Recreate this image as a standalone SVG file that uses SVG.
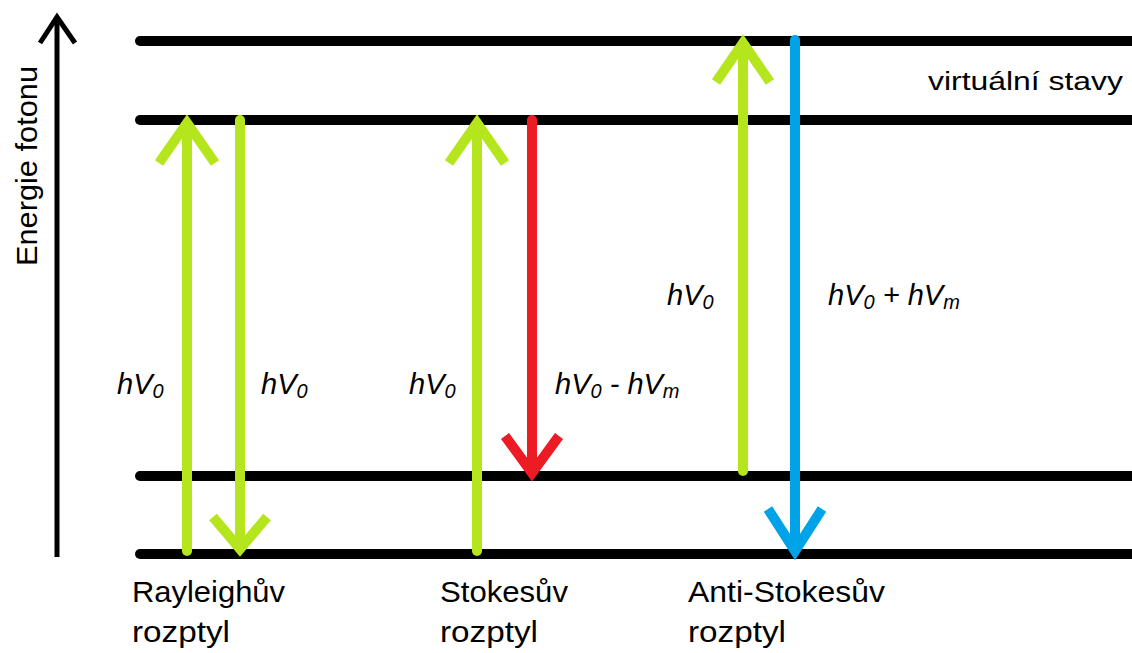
<svg xmlns="http://www.w3.org/2000/svg" width="1132" height="653" viewBox="0 0 1132 653">
<style>
.lvl{stroke:#000;stroke-width:10;stroke-linecap:round;fill:none}
.ar{stroke-width:10;fill:none;stroke-linecap:round}
.hd{stroke-width:10;fill:none;stroke-linecap:butt;stroke-linejoin:miter;stroke-miterlimit:10}
.g{stroke:#b5e61d}.r{stroke:#ed1c24}.b{stroke:#00a2e8}
.t{font-family:"Liberation Sans",Arial,sans-serif;fill:#000}
.lbl{font-family:"Liberation Sans",Arial,sans-serif;font-style:italic;font-size:29px;fill:#000}
.sub{font-size:20px}
</style>
<rect width="1132" height="653" fill="#fff"/>
<g id="axis">
<line x1="57" y1="557" x2="57" y2="18" stroke="#000" stroke-width="5"/>
<polyline points="40,43 57,17 75,43" fill="none" stroke="#000" stroke-width="5" stroke-linejoin="miter"/>
<text class="t" font-size="30" transform="translate(37,166) rotate(-90)" text-anchor="middle" textLength="200" lengthAdjust="spacingAndGlyphs">Energie fotonu</text>
</g>
<g id="levels">
<line class="lvl" x1="140" y1="41" x2="1140" y2="41"/>
<line class="lvl" x1="140" y1="120" x2="1140" y2="120"/>
<line class="lvl" x1="140" y1="476" x2="1140" y2="476"/>
<line class="lvl" x1="140" y1="554" x2="1140" y2="554"/>
<text class="t" x="928" y="90" font-size="26" textLength="195" lengthAdjust="spacingAndGlyphs">virtuální stavy</text>
</g>
<g id="connectors">
<g id="rayleigh-up">
<line class="ar g" x1="187" y1="551" x2="187" y2="125"/>
<polyline class="hd g" points="159,163 187,123 215,163"/>
</g>
<g id="rayleigh-down">
<line class="ar g" x1="240" y1="120" x2="240" y2="545"/>
<polyline class="hd g" points="213,517 240,549 267,517"/>
</g>
<g id="stokes-up">
<line class="ar g" x1="477" y1="551" x2="477" y2="125"/>
<polyline class="hd g" points="449,163 477,123 505,163"/>
</g>
<g id="stokes-down">
<line class="ar r" x1="532" y1="120" x2="532" y2="468"/>
<polyline class="hd r" points="505,436 532,473 559,436"/>
</g>
<g id="antistokes-up">
<line class="ar g" x1="743" y1="471" x2="743" y2="45"/>
<polyline class="hd g" points="716,82 743,43 770,82"/>
</g>
<g id="antistokes-down">
<line class="ar b" x1="795" y1="40" x2="795" y2="545"/>
<polyline class="hd b" points="768,509 795,551 822,509"/>
</g>
</g>
<g id="labels">
<text class="lbl" x="117" y="394">hV<tspan class="sub" dy="4">0</tspan></text>
<text class="lbl" x="261" y="394">hV<tspan class="sub" dy="4">0</tspan></text>
<text class="lbl" x="409" y="394">hV<tspan class="sub" dy="4">0</tspan></text>
<text class="lbl" x="555" y="394">hV<tspan class="sub" dy="4">0</tspan><tspan dy="-4"> - hV</tspan><tspan class="sub" dy="4">m</tspan></text>
<text class="lbl" x="667" y="305">hV<tspan class="sub" dy="4">0</tspan></text>
<text class="lbl" x="828" y="305">hV<tspan class="sub" dy="4">0</tspan><tspan dy="-4"> + hV</tspan><tspan class="sub" dy="4">m</tspan></text>
</g>
<g id="names">
<text class="t" font-size="29" x="132" y="602" textLength="153" lengthAdjust="spacingAndGlyphs">Rayleighův</text>
<text class="t" font-size="29" x="132" y="642" textLength="98" lengthAdjust="spacingAndGlyphs">rozptyl</text>
<text class="t" font-size="29" x="440" y="602" textLength="128" lengthAdjust="spacingAndGlyphs">Stokesův</text>
<text class="t" font-size="29" x="440" y="642" textLength="98" lengthAdjust="spacingAndGlyphs">rozptyl</text>
<text class="t" font-size="29" x="688" y="602" textLength="197" lengthAdjust="spacingAndGlyphs">Anti-Stokesův</text>
<text class="t" font-size="29" x="688" y="642" textLength="98" lengthAdjust="spacingAndGlyphs">rozptyl</text>
</g>
</svg>
